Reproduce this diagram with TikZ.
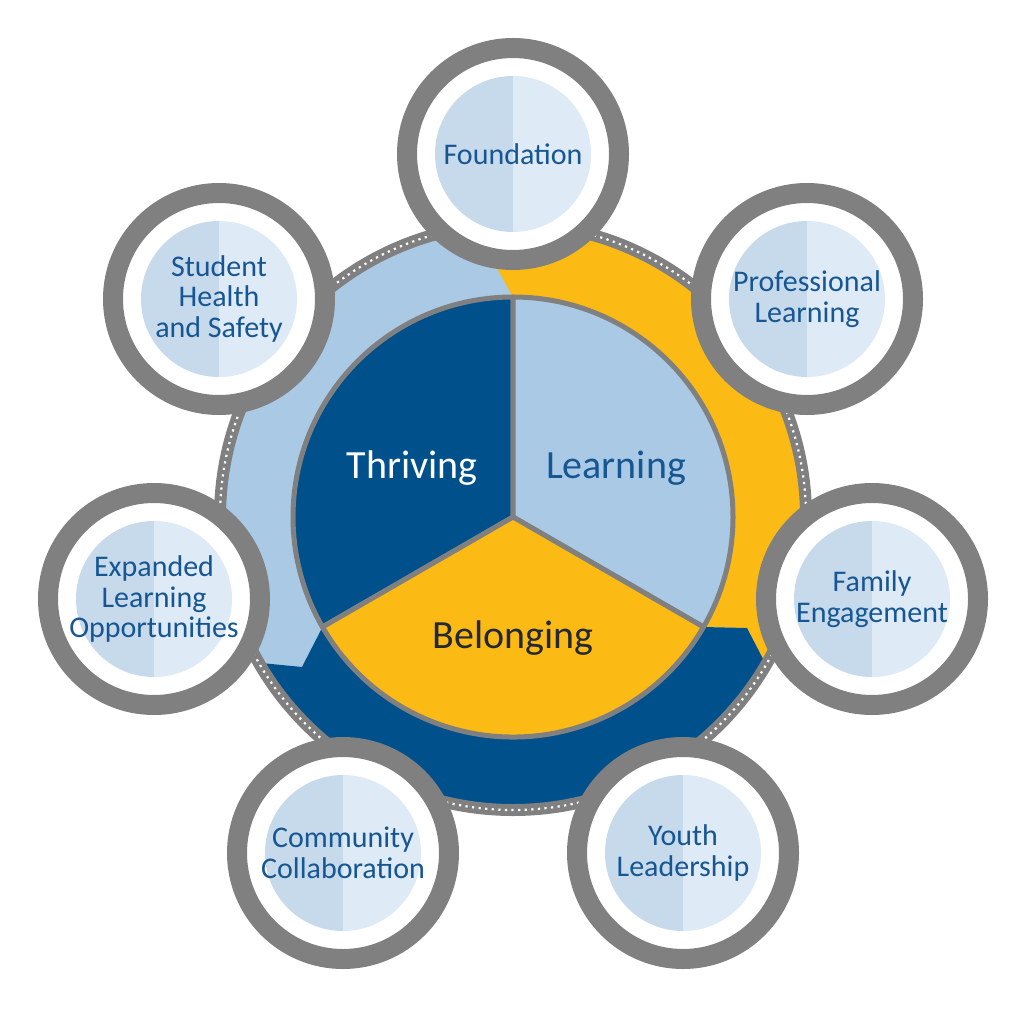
\documentclass[tikz,border=0pt]{standalone}
\usepackage{fontspec}
\setmainfont{Carlito}
\definecolor{dblue}{RGB}{0,80,140}
\definecolor{lblue}{RGB}{170,201,228}
\definecolor{yel}{RGB}{252,186,20}
\definecolor{rgray}{RGB}{128,128,128}
\definecolor{discL}{RGB}{199,218,236}
\definecolor{discR}{RGB}{222,234,245}
\definecolor{txtblue}{RGB}{22,86,146}
\definecolor{dtxt}{RGB}{35,40,55}
\newcommand\mysat[4]{%
  \fill[white] (#2,#3) circle (106pt);
  \draw[rgray, line width=20pt] (#2,#3) circle (106pt);
  \fill[discL] (#2,#3) ++(0pt,78pt) arc[start angle=90,end angle=270,radius=78pt] -- cycle;
  \fill[discR] (#2,#3) ++(0pt,78pt) arc[start angle=90,end angle=-90,radius=78pt] -- cycle;
  \node[sattext] (#1) at (#2,#3) {#4};
}
\begin{document}
\begin{tikzpicture}[x=1pt,y=-1pt,
  sattext/.style={text=txtblue, font=\fontsize{30}{30.5}\selectfont, align=center, inner sep=0pt},
  pietext/.style={font=\fontsize{40}{40}\selectfont, inner sep=0pt, anchor=base},
  sector/.style={draw=rgray, line width=5pt, line join=round}]
\useasboundingbox (0,0) rectangle (1024,1024);
\fill[white] (0,0) rectangle (1024,1024);
\coordinate (c) at (513,517);
% coloured band
\begin{scope}
  \clip (c) circle (290pt);
  \fill[lblue] (c) circle (290pt);
  \fill[yel] (470,200) -- (476,230) -- (497,268) -- (513,297) -- (513,517) -- (703,627) -- (747,628) -- (805,740) -- (900,740) -- (900,200) -- cycle;
  \fill[dblue] (513,517) -- (703,627) -- (747,628) -- (805,740) -- (805,900) -- (200,900) -- (200,657) -- (302,667) -- (322,628) -- cycle;
\end{scope}
% outer ring
\draw[rgray, line width=12pt] (c) circle (293pt);
\draw[white, line width=2.2pt, dash pattern=on 2.2pt off 4.4pt] (c) circle (293pt);
% pie
\fill[dblue, sector] (c) -- ++(0pt,220pt) arc[start angle=90,end angle=210,radius=220pt] -- cycle;
\fill[lblue, sector] (c) -- ++(0pt,220pt) arc[start angle=90,end angle=-30,radius=220pt] -- cycle;
\fill[yel, sector] (c) -- +(210:220pt) arc[start angle=210,end angle=330,radius=220pt] -- cycle;
\node[pietext, text=white] (thr) at (412,478) {Thriving};
\node[pietext, text=txtblue] (lea) at (616,478) {Learning};
\node[pietext, text=dtxt] (bel) at (513,648) {Belonging};
% satellites
\mysat{found}{513}{154}{Foundation}
\mysat{prof}{807}{299}{Professional\\Learning}
\mysat{fam}{872}{599}{Family\\Engagement}
\mysat{youth}{683}{853}{Youth\\Leadership}
\mysat{comm}{343}{853}{Community\\Collaboration}
\mysat{exp}{154}{599}{Expanded\\Learning\\Opportunities}
\mysat{stud}{219}{299}{Student\\Health\\and Safety}
\end{tikzpicture}
\end{document}
